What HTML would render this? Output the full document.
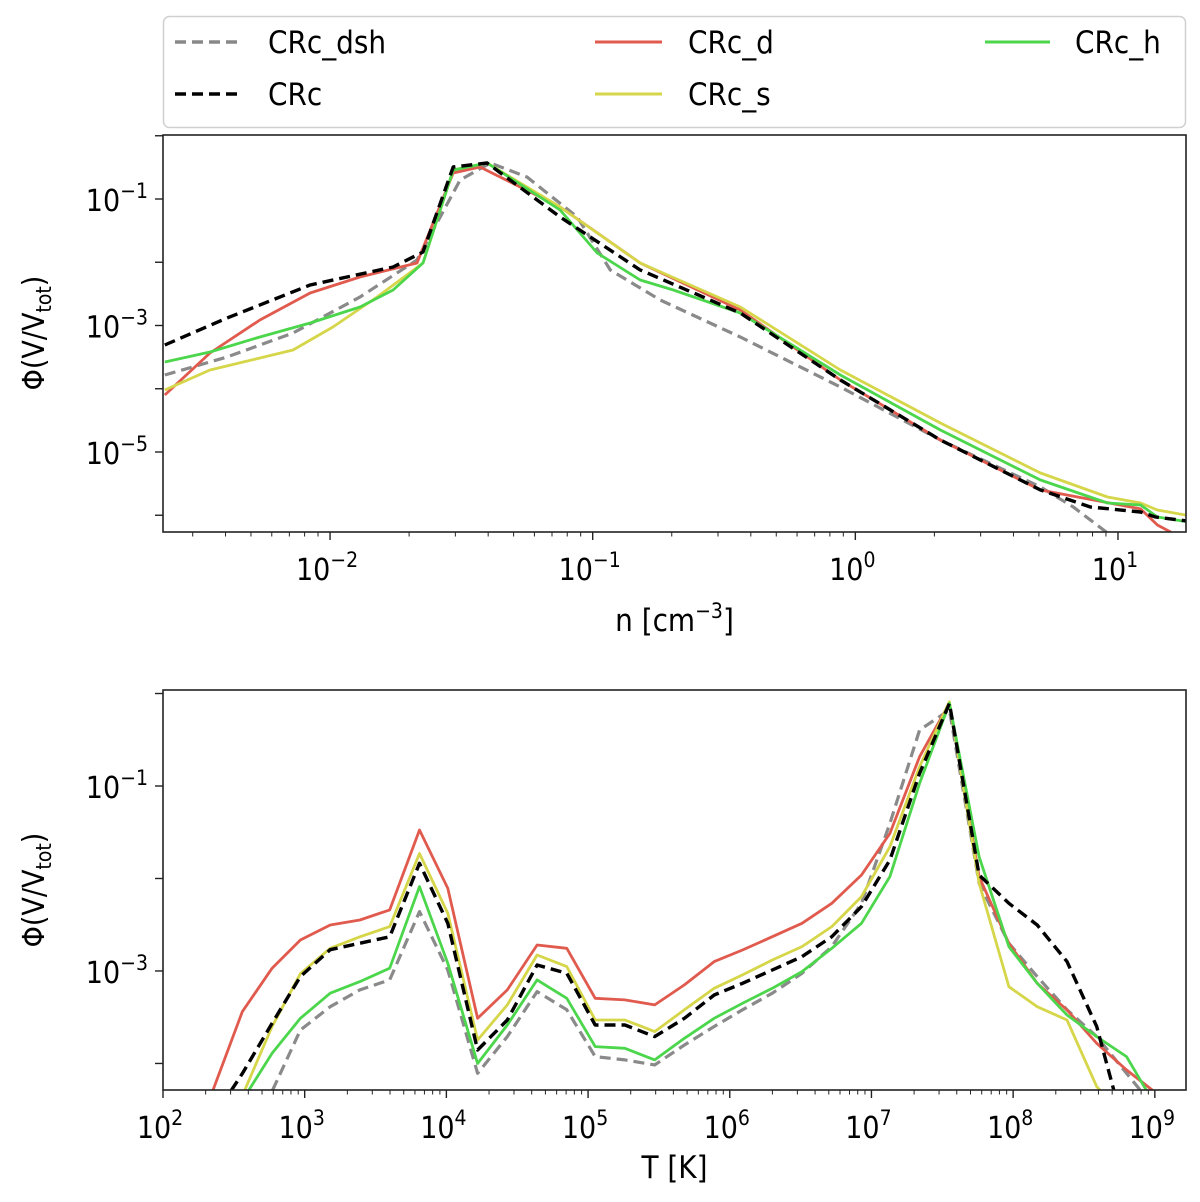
<!DOCTYPE html>
<html><head><meta charset="utf-8"><style>
html,body{margin:0;padding:0;background:#fff;}
svg{display:block;font-family:"DejaVu Sans Condensed","DejaVu Sans","Liberation Sans",sans-serif;}
</style></head><body>
<svg id="fig" width="1200" height="1202" viewBox="0 0 1200 1202" xmlns="http://www.w3.org/2000/svg">
<rect x="0" y="0" width="1200" height="1202" fill="#fff"/>
<g id="legend">
<rect x="163.5" y="16.5" width="1022" height="111" rx="6" fill="#fff" stroke="#d0d0d0" stroke-width="1.5"/>
<g><line x1="175" y1="42" x2="240" y2="42" stroke="#888" stroke-width="3.5" stroke-dasharray="11,6"/><text x="268" y="53" font-size="31">CRc_dsh</text></g>
<g><line x1="175" y1="94" x2="240" y2="94" stroke="#000" stroke-width="3.5" stroke-dasharray="11,6"/><text x="268" y="105" font-size="31">CRc</text></g>
<g><line x1="595" y1="42" x2="662" y2="42" stroke="#e05a4e" stroke-width="3"/><text x="688" y="53" font-size="31">CRc_d</text></g>
<g><line x1="595" y1="94" x2="662" y2="94" stroke="#d6d64a" stroke-width="3"/><text x="688" y="105" font-size="31">CRc_s</text></g>
<g><line x1="985" y1="42" x2="1050" y2="42" stroke="#4cd64c" stroke-width="3"/><text x="1075" y="53" font-size="31">CRc_h</text></g>
</g>
</svg>
<script>
// ---- top panel data (log10 n, log10 Phi) ----
const topDshX = [-2.629,-2.392,-2.141,-1.886,-1.669,-1.505,-1.39,-1.25,-1.059,-0.933,-0.743,-0.438,-0.057,0.324,0.705,0.83,0.96,1.1];
const topDshY = [-3.783,-3.498,-3.119,-2.549,-1.964,-0.7,-0.431,-0.652,-1.285,-2.123,-2.597,-3.182,-3.972,-4.81,-5.553,-5.87,-6.281,-6.6];
const topCX = [-2.629,-2.392,-2.076,-1.76,-1.646,-1.531,-1.402,-1.124,-0.819,-0.438,-0.057,0.324,0.705,0.895,1.086,1.143,1.261];
const topCY = [-3.308,-2.881,-2.36,-2.075,-1.838,-0.494,-0.431,-1.285,-2.123,-2.802,-3.862,-4.81,-5.601,-5.87,-5.949,-6.028,-6.09];
const topDX = [-2.629,-2.457,-2.267,-2.076,-1.886,-1.669,-1.531,-1.429,-1.124,-0.998,-0.819,-0.438,-0.057,0.324,0.705,1.086,1.15,1.261];
const topDY = [-4.099,-3.435,-2.913,-2.486,-2.233,-2.012,-0.589,-0.494,-1.126,-1.49,-2.012,-2.755,-3.862,-4.81,-5.601,-5.9,-6.154,-6.4];
const topSX = [-2.629,-2.457,-2.141,-1.989,-1.821,-1.646,-1.531,-1.402,-1.124,-0.819,-0.438,-0.057,0.324,0.705,0.96,1.086,1.15,1.261];
const topSY = [-4.02,-3.704,-3.387,-3.024,-2.549,-2.012,-0.542,-0.431,-1.126,-2.012,-2.708,-3.704,-4.542,-5.332,-5.712,-5.806,-5.917,-6.0];
const topHX = [-2.629,-2.457,-2.267,-2.076,-1.886,-1.76,-1.646,-1.531,-1.402,-1.124,-0.983,-0.819,-0.693,-0.438,-0.057,0.324,0.705,0.96,1.086,1.15,1.261];
const topHY = [-3.577,-3.419,-3.182,-2.96,-2.708,-2.439,-2.012,-0.542,-0.431,-1.174,-1.854,-2.281,-2.439,-2.802,-3.783,-4.652,-5.443,-5.806,-5.838,-6.028,-6.1];
const topXTicks = [-2,-1,0,1];
const topXTickExp = ["\u22122","\u22121","0","1"];
const topYTicks = [-1,-3,-5];
const topYTickExp = ["\u22121","\u22123","\u22125"];
// ---- bottom panel data (log10 T, log10 Phi) ----
const botX = [2.35,2.56,2.77,2.97,3.18,3.39,3.60,3.81,4.01,4.22,4.43,4.64,4.85,5.05,5.26,5.47,5.68,5.89,6.09,6.30,6.51,6.72,6.93,7.13,7.34,7.55,7.76,7.97,8.17,8.38,8.59,8.80,9.01,9.21];
const botDsh = [-5,-5,-4.3,-3.638,-3.386,-3.205,-3.097,-2.358,-2.99,-4.106,-3.71,-3.223,-3.42,-3.926,-3.962,-4.016,-3.8,-3.6,-3.42,-3.24,-3.025,-2.737,-2.268,-1.404,-0.395,-0.178,-2.052,-2.701,-3.061,-3.42,-3.71,-4.106,-4.5,-5];
const botC = [-4.6,-4.11,-3.566,-3.06,-2.77,-2.7,-2.63,-1.836,-2.485,-3.854,-3.53,-2.935,-3.025,-3.584,-3.584,-3.71,-3.512,-3.26,-3.133,-2.99,-2.845,-2.629,-2.304,-1.8,-0.863,-0.106,-1.962,-2.268,-2.503,-2.899,-3.6,-4.8,-5,-5];
const botD = [-4.3,-3.44,-2.97,-2.665,-2.503,-2.449,-2.34,-1.476,-2.106,-3.512,-3.205,-2.719,-2.755,-3.295,-3.313,-3.367,-3.151,-2.899,-2.773,-2.629,-2.485,-2.268,-1.962,-1.512,-0.683,-0.106,-1.98,-2.701,-3.133,-3.422,-3.782,-4.07,-4.32,-4.6];
const botS = [-5,-4.35,-3.6,-3.03,-2.755,-2.63,-2.52,-1.73,-2.376,-3.746,-3.367,-2.827,-2.953,-3.53,-3.53,-3.656,-3.42,-3.187,-3.043,-2.881,-2.737,-2.52,-2.196,-1.656,-0.79,-0.088,-2.05,-3.17,-3.386,-3.53,-4.25,-4.6,-5,-5];
const botH = [-5,-4.4,-3.89,-3.512,-3.24,-3.115,-2.97,-2.088,-2.917,-4.0,-3.584,-3.097,-3.295,-3.818,-3.836,-3.962,-3.728,-3.512,-3.35,-3.187,-3.007,-2.755,-2.485,-1.98,-0.971,-0.106,-1.764,-2.737,-3.133,-3.476,-3.71,-3.926,-4.47,-5];
const botXTicks = [2,3,4,5,6,7,8,9];
const botXTickExp = ["2","3","4","5","6","7","8","9"];
const botYTicks = [-1,-3];
const botYTickExp = ["\u22121","\u22123"];

const NS = "http://www.w3.org/2000/svg";
const svg = document.getElementById('fig');
function mk(tag, attrs, parent){const e=document.createElementNS(NS,tag);for(const k in attrs)e.setAttribute(k,attrs[k]);(parent||svg).appendChild(e);return e;}

function panel(id, L, R, T, B, xmin, xmax, ymin, ymax){
  const sx = v => L + (v - xmin) / (xmax - xmin) * (R - L);
  const sy = v => B - (v - ymin) / (ymax - ymin) * (B - T);
  return {id,L,R,T,B,xmin,xmax,ymin,ymax,sx,sy};
}
const P1 = panel('top',163,1186,135,532,-2.636,1.259,-6.265,0.012);
const P2 = panel('bottom',163,1186,690,1090,2.0,9.22,-4.287,0.038);

function drawPanel(P, series, xTicks, xExp, yTicks, yExp, xTitle, yTitleY, xTitleOff){
  const g = mk('g',{});
  
  
  const cid = 'clip-' + P.id;
  const cp = mk('clipPath',{id:cid}, g);
  mk('rect',{x:P.L,y:P.T,width:P.R-P.L,height:P.B-P.T}, cp);
  const lines = mk('g',{'clip-path':'url(#'+cid+')'}, g);
  series.forEach(s=>{
    let d='';
    s.x.forEach((xv,i)=>{ d += (i?'L':'M') + P.sx(xv).toFixed(1) + ',' + P.sy(s.y[i]).toFixed(1); });
    const p = mk('path',{d:d,fill:'none',stroke:s.color,'stroke-width':s.w,'stroke-linejoin':'round'}, lines);
    if(s.dash) p.setAttribute('stroke-dasharray', s.dash);
    
    
  });
  const fr = mk('rect',{x:P.L,y:P.T,width:P.R-P.L,height:P.B-P.T,fill:'none',stroke:'#222','stroke-width':1.6}, g);
  
  
  for(let dec=Math.floor(P.xmin); dec<=Math.ceil(P.xmax); dec++){
    for(let m=1;m<10;m++){
      const v = dec + Math.log10(m);
      if(v < P.xmin-1e-6 || v > P.xmax+1e-6) continue;
      const x = P.sx(v);
      mk('line',{x1:x,x2:x,y1:P.B,y2:P.B+(m===1?8:4.5),stroke:'#222','stroke-width':m===1?1.4:1}, g);
    }
  }
  xTicks.forEach((t,i)=>{
    const x = P.sx(t);
    const tx = mk('text',{x:x-3,y:P.B+48,'font-size':30,'text-anchor':'middle'}, g);
    
    
    tx.textContent = '10';
    const sup = mk('tspan',{dy:-13,'font-size':21}, tx);
    sup.textContent = xExp[i];
  });
  for(let dec=Math.ceil(P.ymin); dec<=Math.floor(P.ymax); dec++){
    const y = P.sy(dec);
    mk('line',{x1:P.L,x2:P.L-8,y1:y,y2:y,stroke:'#222','stroke-width':1.4}, g);
  }
  yTicks.forEach((t,i)=>{
    const y = P.sy(t);
    const tx = mk('text',{x:148,y:y+12,'font-size':30,'text-anchor':'end'}, g);
    
    
    tx.textContent = '10';
    const sup = mk('tspan',{dy:-13,'font-size':21}, tx);
    sup.textContent = yExp[i];
  });
  const xt = mk('text',{x:(P.L+P.R)/2,y:P.B+xTitleOff,'font-size':31,'text-anchor':'middle'}, g);
  
  
  xTitle(xt);
  const yt = mk('text',{x:0,y:0,'font-size':30,'text-anchor':'middle',transform:'translate(44,'+yTitleY+') rotate(-90)'}, g);
  
  
  yt.appendChild(document.createTextNode('\u03A6(V/V'));
  const sub = mk('tspan',{dy:7,'font-size':21}, yt); sub.textContent='tot';
  const cl = mk('tspan',{dy:-7}, yt); cl.textContent=')';
}

const topSeries = [
  {name:'crc-dsh',x:topDshX,y:topDshY,color:'#8a8a8a',w:3.2,dash:'11,6'},
  {name:'crc-d',x:topDX,y:topDY,color:'#e05a4e',w:2.8},
  {name:'crc-s',x:topSX,y:topSY,color:'#d6d64a',w:2.8},
  {name:'crc-h',x:topHX,y:topHY,color:'#4cd64c',w:2.8},
  {name:'crc',x:topCX,y:topCY,color:'#000',w:3.4,dash:'11,6'}
];
const botSeries = [
  {name:'crc-dsh',x:botX,y:botDsh,color:'#8a8a8a',w:3.2,dash:'11,6'},
  {name:'crc-d',x:botX,y:botD,color:'#e05a4e',w:2.8},
  {name:'crc-s',x:botX,y:botS,color:'#d6d64a',w:2.8},
  {name:'crc-h',x:botX,y:botH,color:'#4cd64c',w:2.8},
  {name:'crc',x:botX,y:botC,color:'#000',w:3.4,dash:'11,6'}
];
drawPanel(P1, topSeries, topXTicks, topXTickExp, topYTicks, topYTickExp, t=>{
  t.appendChild(document.createTextNode('n [cm'));
  const s = mk('tspan',{dy:-13,'font-size':21}, t); s.textContent='\u22123';
  const c = mk('tspan',{dy:13}, t); c.textContent=']';
}, 333, 99);
drawPanel(P2, botSeries, botXTicks, botXTickExp, botYTicks, botYTickExp, t=>{
  t.textContent='T [K]';
}, 890, 88);
</script>
</body></html>
